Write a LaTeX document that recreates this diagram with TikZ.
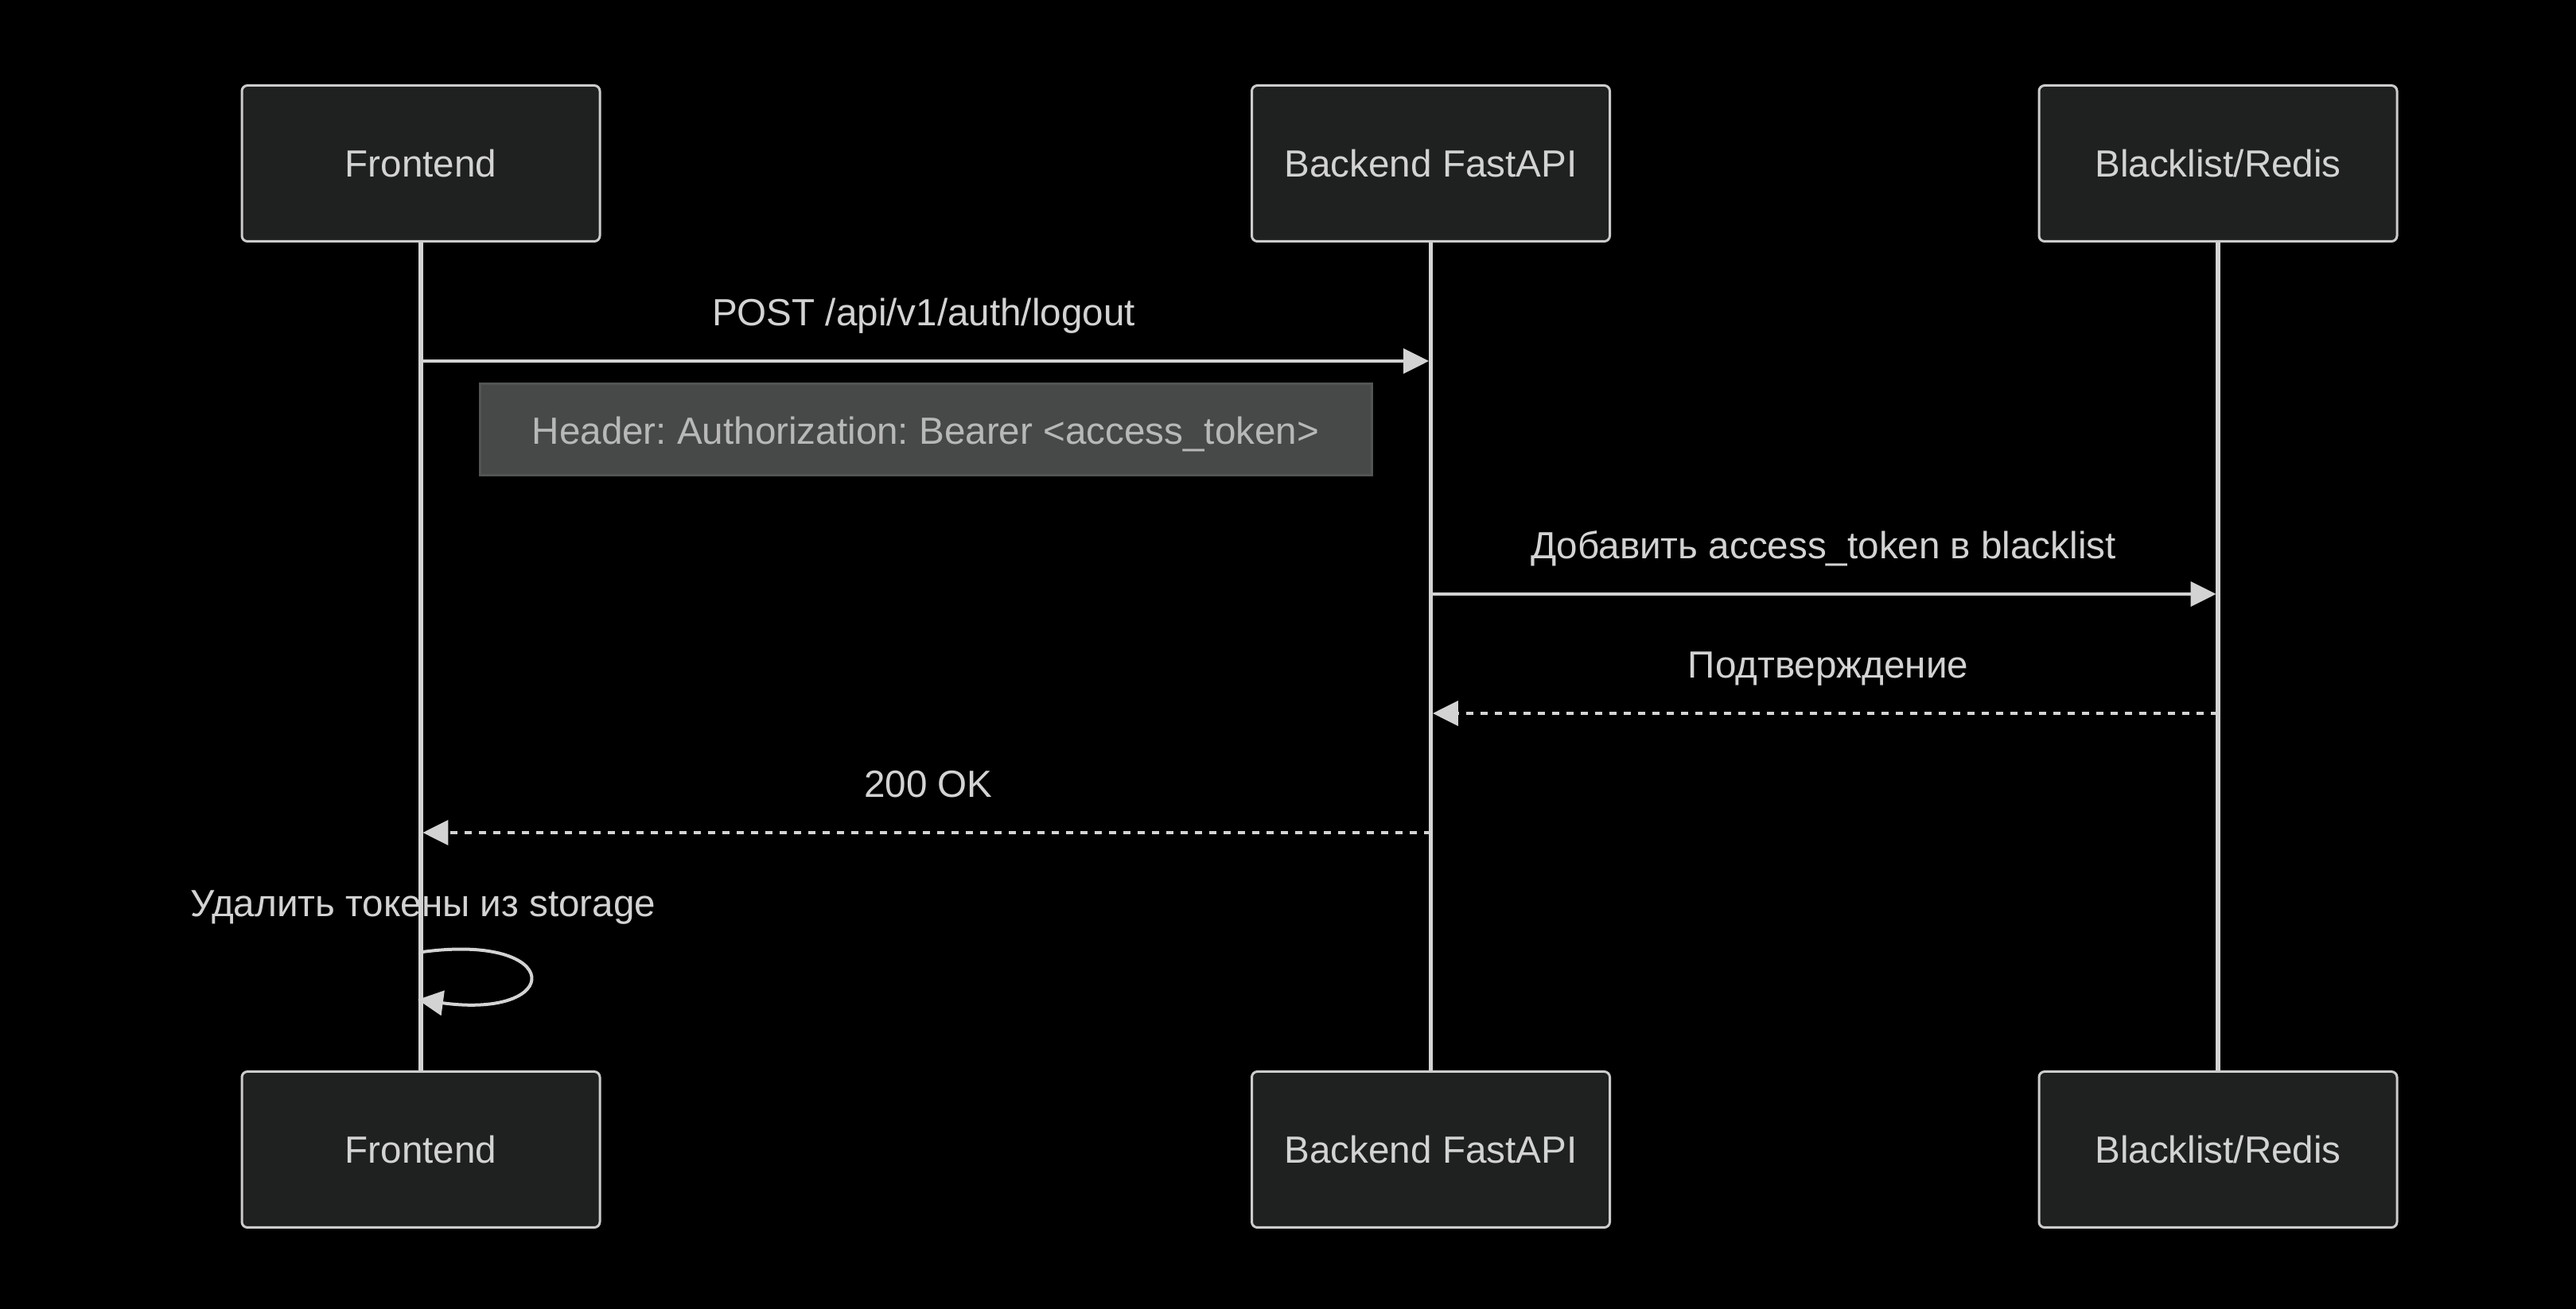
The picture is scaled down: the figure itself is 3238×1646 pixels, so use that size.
\documentclass[tikz,border=0pt]{standalone}
\usepackage{fontspec}
\setmainfont{Liberation Sans}
\usetikzlibrary{arrows.meta}
\definecolor{actorfill}{HTML}{1F2020}
\definecolor{actorline}{HTML}{CCCCCC}
\definecolor{ltext}{HTML}{D3D3D3}
\definecolor{lline}{HTML}{D3D3D3}
\definecolor{notefill}{HTML}{474949}
\definecolor{noteline}{HTML}{535555}
\definecolor{notetext}{HTML}{B8B8B8}
\frenchspacing
\begin{document}
\begin{tikzpicture}[x=0.25pt,y=-0.25pt,
 font=\fontsize{11.9}{14}\selectfont,
 actor/.style={draw=actorline, line width=0.75pt, fill=actorfill, rounded corners=1.75pt,
   minimum width=112.5pt, minimum height=49pt, inner sep=0pt, text=ltext,
   text height=0.86em, text depth=0pt},
 lifeline/.style={draw=lline, line width=1.4pt},
 msg/.style={draw=lline, line width=1pt, -{Triangle[length=8pt,width=7.75pt]}, shorten >=0.6pt},
 reply/.style={msg, dash pattern=on 2.25pt off 2.25pt},
 lbl/.style={text=ltext, anchor=base, inner sep=0pt},
 notebox/.style={draw=noteline, line width=0.75pt, fill=notefill, text=notetext,
   minimum width=280.25pt, minimum height=28.75pt, inner sep=0pt,
   text height=0.9em, text depth=0pt}
]
\fill[black] (0,0) rectangle (3238,1646);
\useasboundingbox (0,0) rectangle (3238,1646);

% actors
\node[actor] (fe)  at (529,205.5)  {Frontend};
\node[actor] (be)  at (1798.5,205.5) {Backend FastAPI};
\node[actor] (bl)  at (2788,205.5) {Blacklist/Redis};
\node[actor] (fe2) at (529,1445.5)  {Frontend};
\node[actor] (be2) at (1798.5,1445.5) {Backend FastAPI};
\node[actor] (bl2) at (2788,1445.5) {Blacklist/Redis};

% lifelines
\draw[lifeline] (fe.south) -- (fe2.north);
\draw[lifeline] (be.south) -- (be2.north);
\draw[lifeline] (bl.south) -- (bl2.north);

% message 1
\coordinate (m1s) at (529,454);
\coordinate (m1e) at (1798.5,454);
\draw[msg] (m1s) -- (m1e);
\node[lbl] (t1) at (1161,410) {POST /api/v1/auth/logout};

% note
\node[notebox] (note) at (1163.5,540.5) {Header: Authorization: Bearer <access\_token>};

% message 2
\coordinate (m2s) at (1798.5,747);
\coordinate (m2e) at (2788,747);
\draw[msg] (m2s) -- (m2e);
\node[lbl] (t2) at (2292,703) {Добавить access\_token в blacklist};

% message 3
\coordinate (m3s) at (2788,897);
\coordinate (m3e) at (1798.5,897);
\draw[reply] (m3s) -- (m3e);
\node[lbl] (t3) at (2298,853) {Подтверждение};

% message 4
\coordinate (m4s) at (1798.5,1047);
\coordinate (m4e) at (529,1047);
\draw[reply] (m4s) -- (m4e);
\node[lbl] (t4) at (1167,1003) {200 OK};

% self message
\coordinate (s1) at (531,1197);
\coordinate (c1) at (710,1173);
\coordinate (c2) at (710,1282);
\coordinate (s2) at (525,1257);
\draw[msg, shorten >=0pt] (s1) .. controls (c1) and (c2) .. (s2);
\node[lbl] (t5) at (532,1153) {Удалить токены из storage};
\end{tikzpicture}
\end{document}
